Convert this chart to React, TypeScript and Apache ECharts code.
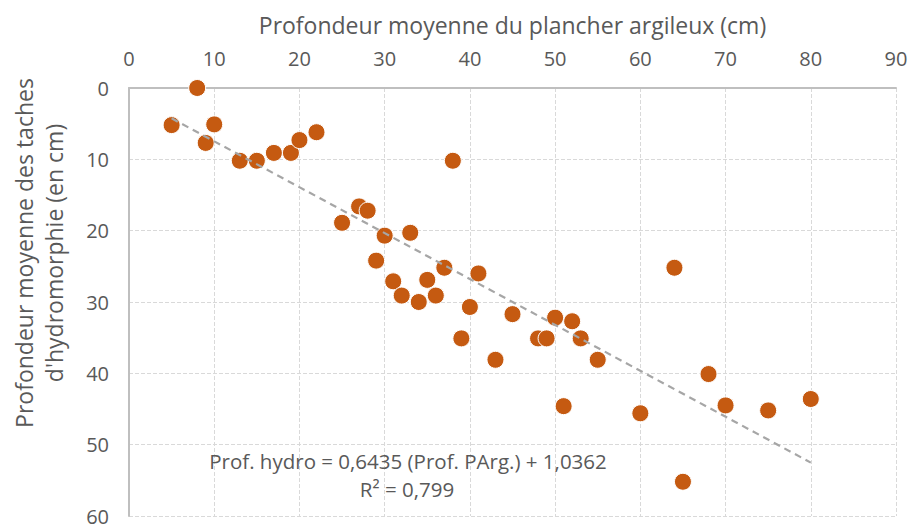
import React, { useEffect, useRef } from "react";
import * as echarts from "echarts";

const xTitle = "Profondeur moyenne du plancher argileux (cm)";
const yTitleLines = ["Profondeur moyenne des taches", "d'hydromorphie (en cm)"];
const eqLine1 = "Prof. hydro = 0,6435 (Prof. PArg.) + 1,0362";
const eqLine2 = "R² = 0,799";

const clayDepth = [5, 8, 10, 9, 13, 15, 17, 19, 20, 22, 38, 25, 27, 28, 30, 33, 29, 37, 41, 31, 35, 32, 36, 34, 40, 39, 43, 45, 48, 49, 50, 52, 53, 55, 51, 60, 64, 68, 70, 75, 80, 65];
const spotDepth = [5.2, 0, 5.1, 7.7, 10.2, 10.2, 9.1, 9.1, 7.3, 6.2, 10.2, 18.9, 16.6, 17.2, 20.7, 20.3, 24.2, 25.2, 26, 27.1, 26.9, 29.1, 29.1, 30, 30.7, 35.1, 38.1, 31.7, 35.1, 35.1, 32.2, 32.7, 35.1, 38.1, 44.6, 45.6, 25.2, 40.1, 44.5, 45.2, 43.6, 55.2];

const slope = 0.6435;
const intercept = 1.0362;
const trendX = [5, 80];

const FONT = "'Open Sans', sans-serif";
const TEXT_COLOR = "#595959";

export default function App() {
  const ref = useRef<HTMLDivElement>(null);
  useEffect(() => {
    document.body.style.margin = "0";
    if (!ref.current) return;
    const chart = echarts.init(ref.current, undefined, { renderer: "svg" });
    const points = clayDepth.map((x, i) => [x, spotDepth[i]]);
    const trend = trendX.map((x) => [x, slope * x + intercept]);
    chart.setOption({
      animation: false,
      backgroundColor: "#ffffff",
      textStyle: { fontFamily: FONT },
      grid: { left: 129, right: 16, top: 88, bottom: 12, containLabel: false },
      xAxis: {
        type: "value",
        position: "top",
        min: 0,
        max: 90,
        interval: 10,
        name: xTitle,
        nameLocation: "middle",
        nameGap: 52,
        nameTextStyle: { fontSize: 23, color: TEXT_COLOR, fontFamily: FONT },
        axisLine: { show: true, onZero: false, lineStyle: { color: "#bfbfbf", width: 2 } },
        axisTick: { show: false },
        axisLabel: { fontSize: 20, color: TEXT_COLOR, margin: 20, fontFamily: FONT },
        splitLine: { show: true, lineStyle: { color: "#d9d9d9", type: "dashed", width: 1 } },
      },
      yAxis: {
        type: "value",
        inverse: true,
        min: 0,
        max: 60,
        interval: 10,
        axisLine: { show: true, onZero: false, lineStyle: { color: "#bfbfbf", width: 2 } },
        axisTick: { show: false },
        axisLabel: { fontSize: 20, color: TEXT_COLOR, margin: 20, fontFamily: FONT },
        splitLine: { show: true, lineStyle: { color: "#d9d9d9", type: "dashed", width: 1 } },
      },
      graphic: [
        {
          type: "text",
          x: 24,
          y: 253,
          rotation: Math.PI / 2,
          style: { text: yTitleLines[0], fontSize: 23, fill: TEXT_COLOR, fontFamily: FONT, textAlign: "center", textVerticalAlign: "middle" },
        },
        {
          type: "text",
          x: 54,
          y: 253,
          rotation: Math.PI / 2,
          style: { text: yTitleLines[1], fontSize: 23, fill: TEXT_COLOR, fontFamily: FONT, textAlign: "center", textVerticalAlign: "middle" },
        },
        {
          type: "text",
          x: 408,
          y: 461,
          z: 100,
          style: { text: eqLine1, fontSize: 20.5, fill: TEXT_COLOR, fontFamily: FONT, textAlign: "center", textVerticalAlign: "middle" },
        },
        {
          type: "text",
          x: 407,
          y: 489,
          z: 100,
          style: { text: eqLine2, fontSize: 20.5, fill: TEXT_COLOR, fontFamily: FONT, textAlign: "center", textVerticalAlign: "middle" },
        },
      ],
      series: [
        {
          type: "scatter",
          data: points,
          symbol: "circle",
          symbolSize: 17,
          itemStyle: { color: "#C55A11", borderColor: "#ffffff", borderWidth: 1, opacity: 1 },
          z: 2,
        },
        {
          type: "line",
          data: trend,
          symbol: "none",
          silent: true,
          lineStyle: { color: "#a6a6a6", width: 2.2, type: [7, 5] },
          z: 3,
        },
      ],
    });
    return () => chart.dispose();
  }, []);
  return <div ref={ref} style={{ width: 912, height: 528 }} />;
}
